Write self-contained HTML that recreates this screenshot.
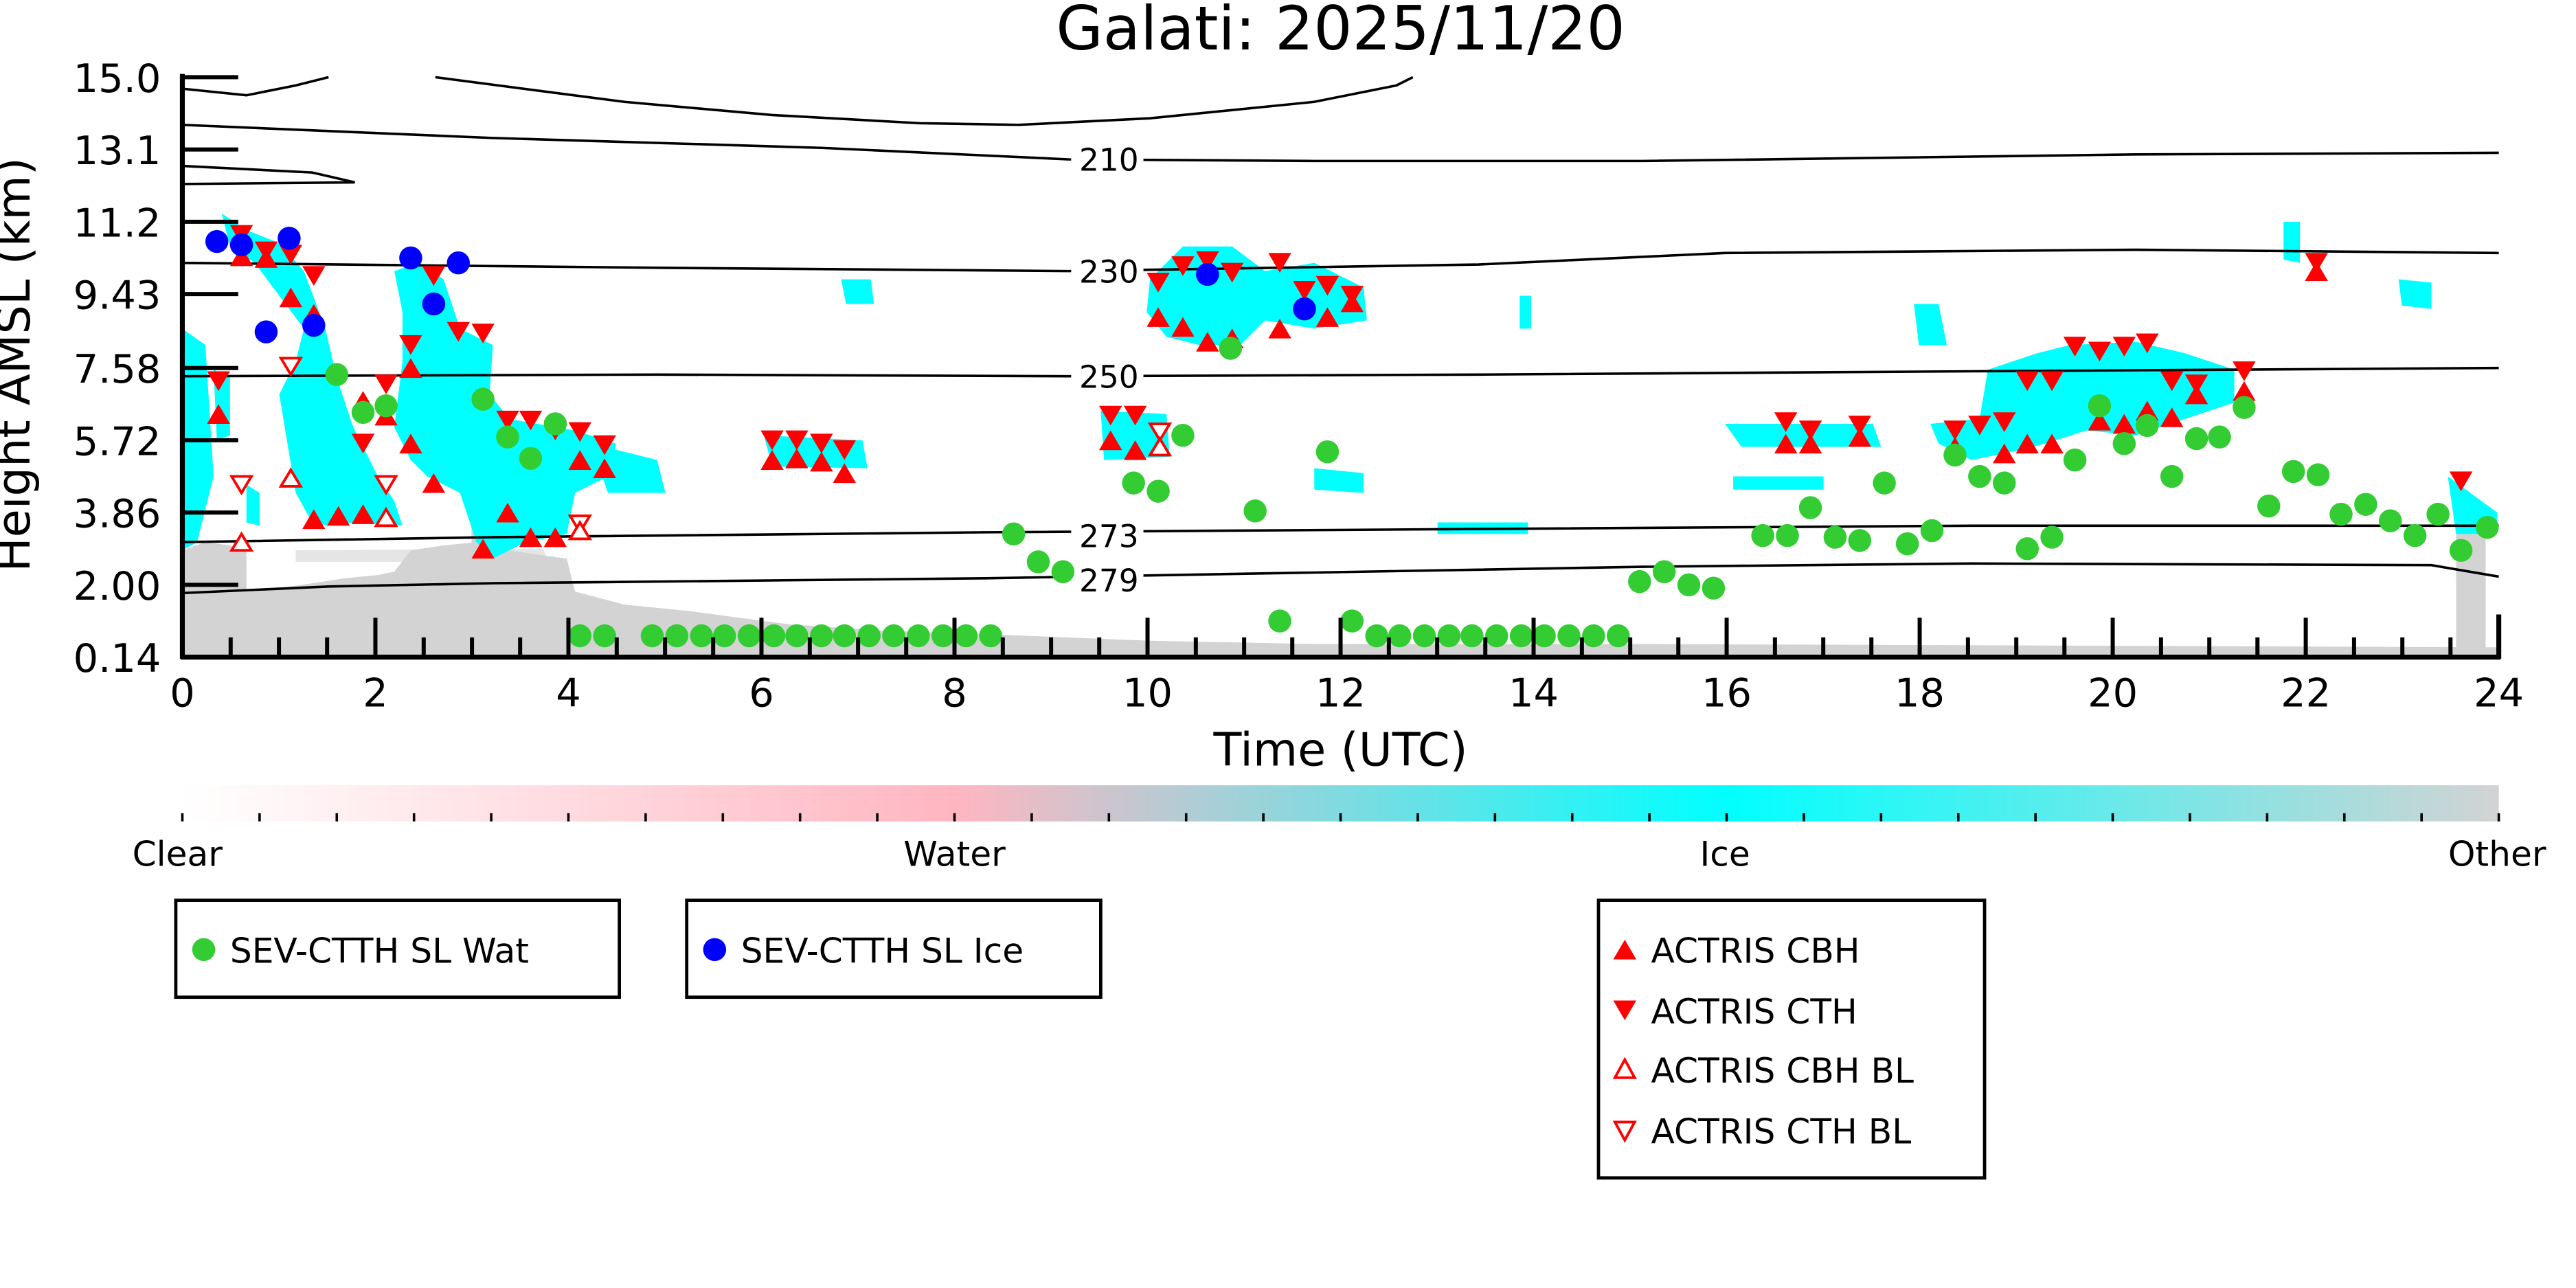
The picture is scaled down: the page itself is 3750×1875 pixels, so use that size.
<!DOCTYPE html>
<html><head><meta charset="utf-8"><style>
html,body{margin:0;padding:0;background:#fff;}
svg{display:block;}
text{font-family:"DejaVu Sans","Liberation Sans",sans-serif;}
</style></head><body>
<svg width="3750" height="1875" viewBox="0 0 1568 784" preserveAspectRatio="xMinYMin meet" xmlns="http://www.w3.org/2000/svg">
<defs>
<linearGradient id="cb" x1="0" x2="1" y1="0" y2="0">
<stop offset="0" stop-color="#ffffff"/>
<stop offset="0.333" stop-color="#ffb6c1"/>
<stop offset="0.666" stop-color="#00ffff"/>
<stop offset="1" stop-color="#d3d3d3"/>
</linearGradient>
<polygon id="up" points="0,-6 7,6 -7,6"/>
<polygon id="dn" points="0,6 7,-6 -7,-6"/>
</defs>
<text x="816" y="30" font-size="37" text-anchor="middle">Galati: 2025/11/20</text>

<g fill="#d3d3d3">
<path d="M111,335 L125,330 L140,332 L150,336 L150,360 L170,358 L190,355 L210,352 L230,350 L240,348 L250,335 L270,332 L290,330 L310,335 L330,338 L345,340 L350,360 L380,368 L420,372 L480,380 L540,384 L600,386 L700,390 L800,392 L900,392 L1000,392 L1521,394 L1521,400 L111,400 Z"/>
<rect x="287" y="320" width="20" height="80"/>
<rect x="1495" y="320" width="18" height="80"/>
<path d="M180,335 L330,334 L335,342 L180,342 Z" opacity="0.6"/>
</g>
<g fill="#00ffff">
<path d="M111,200 L125,210 L130,290 L120,330 L111,335 Z"/>
<path d="M130,225 L140,230 L140,265 L132,268 Z"/>
<path d="M150,295 L158,300 L158,320 L150,318 Z"/>
<path d="M135,130 L150,140 L170,148 L185,165 L198,200 L205,230 L215,260 L230,290 L240,305 L245,320 L215,318 L200,320 L190,318 L180,300 L175,270 L170,240 L180,220 L185,200 L170,180 L155,160 L140,150 Z"/>
<path d="M240,165 L255,160 L270,170 L280,200 L300,210 L298,240 L310,255 L350,262 L375,270 L370,290 L350,300 L345,325 L320,330 L300,340 L290,330 L280,300 L260,290 L250,280 L240,260 L245,220 L245,190 Z"/>
<path d="M360,270 L400,280 L405,300 L370,300 Z"/>
<path d="M465,265 L525,268 L528,285 L470,284 Z"/>
<path d="M670,250 L710,252 L712,278 L672,280 Z"/>
<path d="M700,170 L720,150 L750,150 L770,165 L800,160 L830,175 L832,195 L800,200 L770,195 L755,210 L730,210 L710,205 L698,190 Z"/>
<path d="M1210,225 L1240,215 L1260,210 L1300,208 L1330,215 L1360,225 L1360,245 L1330,255 L1300,265 L1270,262 L1245,270 L1225,275 L1200,280 L1180,270 L1175,258 L1205,255 Z"/>
<path d="M1050,258 L1140,258 L1145,272 L1060,272 Z"/>
<path d="M875,318 L930,318 L930,325 L875,325 Z"/>
<path d="M512,170 L530,170 L532,185 L515,185 Z"/>
<path d="M1165,185 L1180,185 L1185,210 L1168,210 Z"/>
<path d="M1055,290 L1110,290 L1110,298 L1055,298 Z"/>
<path d="M1490,290 L1520,312 L1520,325 L1495,325 Z"/>
<path d="M1460,170 L1480,172 L1480,188 L1462,186 Z"/>
<path d="M1390,135 L1400,135 L1400,160 L1390,158 Z"/>
<path d="M925,180 L932,180 L932,200 L925,200 Z"/>
<path d="M800,285 L830,288 L830,300 L800,298 Z"/>
</g>

<g fill="none" stroke="#000" stroke-width="1.5">
<path d="M111,54 L150,58 L180,52 L200,47"/>
<path d="M265,47 L380,62 L470,70 L560,75 L620,76 L700,72 L800,62 L850,52 L860,47"/>
<path d="M111,76 L300,84 L500,90 L650,97 L800,98 L1000,98 L1300,94 L1521,93"/>
<path d="M111,101 L190,105 L216,111 L111,112"/>
<path d="M111,160 L400,163 L650,165 L900,161 L1050,154 L1300,152 L1521,154"/>
<path d="M111,229 L400,228 L650,229 L900,228 L1200,226 L1521,224"/>
<path d="M111,330 L300,327 L600,324 L900,322 L1200,320 L1521,320"/>
<path d="M111,361 L200,357 L300,355 L600,352 L1000,345 L1200,343 L1480,344 L1521,351"/>
</g>
<g font-size="19" text-anchor="middle">
<rect x="652" y="86" width="44" height="20" fill="#fff"/><text x="675" y="104">210</text>
<rect x="652" y="154" width="44" height="20" fill="#fff"/><text x="675" y="172">230</text>
<rect x="652" y="218" width="44" height="20" fill="#fff"/><text x="675" y="236">250</text>
<rect x="652" y="315" width="44" height="20" fill="#fff"/><text x="675" y="333">273</text>
<rect x="652" y="342" width="44" height="20" fill="#fff"/><text x="675" y="360">279</text>
</g>

<g fill="#ff0000">
<use href="#dn" x="133" y="232"/><use href="#dn" x="147" y="143"/><use href="#dn" x="162" y="153"/><use href="#dn" x="177" y="155"/><use href="#dn" x="191" y="168"/><use href="#dn" x="221" y="270"/><use href="#dn" x="235" y="234"/><use href="#dn" x="250" y="210"/><use href="#dn" x="264" y="168"/><use href="#dn" x="279" y="202"/><use href="#dn" x="294" y="203"/><use href="#dn" x="309" y="256"/><use href="#dn" x="323" y="256"/><use href="#dn" x="338" y="262"/><use href="#dn" x="353" y="263"/><use href="#dn" x="368" y="271"/><use href="#dn" x="470" y="268"/><use href="#dn" x="485" y="268"/><use href="#dn" x="500" y="270"/><use href="#dn" x="514" y="274"/><use href="#dn" x="676" y="253"/><use href="#dn" x="691" y="253"/><use href="#dn" x="705" y="172"/><use href="#dn" x="720" y="162"/><use href="#dn" x="735" y="159"/><use href="#dn" x="750" y="166"/><use href="#dn" x="779" y="160"/><use href="#dn" x="794" y="177"/><use href="#dn" x="808" y="174"/><use href="#dn" x="823" y="180"/><use href="#dn" x="1087" y="257"/><use href="#dn" x="1102" y="262"/><use href="#dn" x="1132" y="259"/><use href="#dn" x="1190" y="262"/><use href="#dn" x="1205" y="259"/><use href="#dn" x="1220" y="257"/><use href="#dn" x="1234" y="232"/><use href="#dn" x="1249" y="232"/><use href="#dn" x="1263" y="211"/><use href="#dn" x="1278" y="214"/><use href="#dn" x="1293" y="211"/><use href="#dn" x="1307" y="209"/><use href="#dn" x="1322" y="232"/><use href="#dn" x="1337" y="234"/><use href="#dn" x="1366" y="226"/><use href="#dn" x="1410" y="160"/><use href="#dn" x="1498" y="293"/>
<use href="#up" x="133" y="252"/><use href="#up" x="147" y="156"/><use href="#up" x="162" y="157"/><use href="#up" x="177" y="181"/><use href="#up" x="191" y="191"/><use href="#up" x="221" y="244"/><use href="#up" x="235" y="253"/><use href="#up" x="250" y="224"/><use href="#up" x="264" y="294"/><use href="#up" x="294" y="334"/><use href="#up" x="309" y="312"/><use href="#up" x="323" y="327"/><use href="#up" x="338" y="327"/><use href="#up" x="368" y="285"/><use href="#up" x="191" y="316"/><use href="#up" x="206" y="314"/><use href="#up" x="221" y="313"/><use href="#up" x="250" y="270"/><use href="#up" x="353" y="280"/><use href="#up" x="470" y="280"/><use href="#up" x="485" y="279"/><use href="#up" x="500" y="281"/><use href="#up" x="514" y="288"/><use href="#up" x="676" y="268"/><use href="#up" x="691" y="274"/><use href="#up" x="705" y="193"/><use href="#up" x="720" y="199"/><use href="#up" x="735" y="208"/><use href="#up" x="750" y="206"/><use href="#up" x="779" y="200"/><use href="#up" x="808" y="193"/><use href="#up" x="823" y="184"/><use href="#up" x="1087" y="270"/><use href="#up" x="1102" y="270"/><use href="#up" x="1132" y="266"/><use href="#up" x="1190" y="272"/><use href="#up" x="1220" y="276"/><use href="#up" x="1234" y="270"/><use href="#up" x="1249" y="270"/><use href="#up" x="1278" y="256"/><use href="#up" x="1293" y="258"/><use href="#up" x="1307" y="250"/><use href="#up" x="1322" y="254"/><use href="#up" x="1337" y="240"/><use href="#up" x="1410" y="165"/><use href="#up" x="1366" y="238"/>
</g>
<g fill="#fff" stroke="#ff0000" stroke-width="1.6">
<polygon points="141,290 153,290 147,300"/><polygon points="171,218 183,218 177,228"/><polygon points="229,290 241,290 235,300"/><polygon points="347,314 359,314 353,324"/><polygon points="700,258 712,258 706,268"/>
<polygon points="147,325 141,335 153,335"/><polygon points="177,286 171,296 183,296"/><polygon points="235,310 229,320 241,320"/><polygon points="353,318 347,328 359,328"/><polygon points="706,267 700,277 712,277"/>
</g>
<g fill="#33cc33">
<circle cx="205" cy="228" r="7"/><circle cx="221" cy="251" r="7"/><circle cx="235" cy="247" r="7"/><circle cx="294" cy="243" r="7"/><circle cx="309" cy="266" r="7"/><circle cx="323" cy="279" r="7"/><circle cx="338" cy="258" r="7"/><circle cx="617" cy="325" r="7"/><circle cx="632" cy="342" r="7"/><circle cx="647" cy="348" r="7"/><circle cx="690" cy="294" r="7"/><circle cx="705" cy="299" r="7"/><circle cx="720" cy="265" r="7"/><circle cx="749" cy="212" r="7"/><circle cx="764" cy="311" r="7"/><circle cx="779" cy="378" r="7"/><circle cx="808" cy="275" r="7"/><circle cx="823" cy="378" r="7"/><circle cx="1073" cy="326" r="7"/><circle cx="1088" cy="326" r="7"/><circle cx="1102" cy="309" r="7"/><circle cx="1117" cy="327" r="7"/><circle cx="1132" cy="329" r="7"/><circle cx="1147" cy="294" r="7"/><circle cx="1161" cy="331" r="7"/><circle cx="1176" cy="323" r="7"/><circle cx="1190" cy="277" r="7"/><circle cx="1205" cy="290" r="7"/><circle cx="1220" cy="294" r="7"/><circle cx="1234" cy="334" r="7"/><circle cx="1249" cy="327" r="7"/><circle cx="1263" cy="280" r="7"/><circle cx="1278" cy="247" r="7"/><circle cx="1293" cy="270" r="7"/><circle cx="1307" cy="259" r="7"/><circle cx="1322" cy="290" r="7"/><circle cx="1337" cy="267" r="7"/><circle cx="1351" cy="266" r="7"/><circle cx="1366" cy="248" r="7"/><circle cx="1381" cy="308" r="7"/><circle cx="1396" cy="287" r="7"/><circle cx="1411" cy="289" r="7"/><circle cx="1425" cy="313" r="7"/><circle cx="1440" cy="307" r="7"/><circle cx="1455" cy="317" r="7"/><circle cx="1470" cy="326" r="7"/><circle cx="1484" cy="313" r="7"/><circle cx="1498" cy="335" r="7"/><circle cx="1514" cy="321" r="7"/><circle cx="998" cy="354" r="7"/><circle cx="1013" cy="348" r="7"/><circle cx="1028" cy="356" r="7"/><circle cx="1043" cy="358" r="7"/>
<circle cx="353" cy="387" r="7"/><circle cx="368" cy="387" r="7"/><circle cx="397" cy="387" r="7"/><circle cx="412" cy="387" r="7"/><circle cx="427" cy="387" r="7"/><circle cx="441" cy="387" r="7"/><circle cx="456" cy="387" r="7"/><circle cx="471" cy="387" r="7"/><circle cx="485" cy="387" r="7"/><circle cx="500" cy="387" r="7"/><circle cx="514" cy="387" r="7"/><circle cx="529" cy="387" r="7"/><circle cx="544" cy="387" r="7"/><circle cx="559" cy="387" r="7"/><circle cx="574" cy="387" r="7"/><circle cx="588" cy="387" r="7"/><circle cx="603" cy="387" r="7"/><circle cx="838" cy="387" r="7"/><circle cx="852" cy="387" r="7"/><circle cx="867" cy="387" r="7"/><circle cx="882" cy="387" r="7"/><circle cx="896" cy="387" r="7"/><circle cx="911" cy="387" r="7"/><circle cx="926" cy="387" r="7"/><circle cx="940" cy="387" r="7"/><circle cx="955" cy="387" r="7"/><circle cx="970" cy="387" r="7"/><circle cx="985" cy="387" r="7"/>
</g>
<g fill="#0000ff">
<circle cx="132" cy="147" r="7"/><circle cx="147" cy="149" r="7"/><circle cx="176" cy="145" r="7"/><circle cx="162" cy="202" r="7"/><circle cx="191" cy="198" r="7"/><circle cx="250" cy="157" r="7"/><circle cx="264" cy="185" r="7"/><circle cx="279" cy="160" r="7"/><circle cx="735" cy="167" r="7"/><circle cx="794" cy="188" r="7"/>
</g>

<g stroke="#000" stroke-width="3" fill="none">
<line x1="111" y1="45" x2="111" y2="401"/>
<line x1="110" y1="400" x2="1522" y2="400"/>
<line x1="1521" y1="374" x2="1521" y2="401"/>
</g>
<g stroke="#000" stroke-width="2.5">
<line x1="111" y1="47" x2="145" y2="47"/><line x1="111" y1="91" x2="145" y2="91"/><line x1="111" y1="135" x2="145" y2="135"/><line x1="111" y1="179" x2="145" y2="179"/><line x1="111" y1="224" x2="145" y2="224"/><line x1="111" y1="268" x2="145" y2="268"/><line x1="111" y1="312" x2="145" y2="312"/><line x1="111" y1="356" x2="145" y2="356"/>
</g>
<g font-size="24" text-anchor="end">
<text x="98" y="56">15.0</text><text x="98" y="100">13.1</text><text x="98" y="144">11.2</text><text x="98" y="188">9.43</text><text x="98" y="233">7.58</text><text x="98" y="277">5.72</text><text x="98" y="321">3.86</text><text x="98" y="365">2.00</text><text x="98" y="409">0.14</text>
</g>
<g font-size="24" text-anchor="middle">
<text x="111" y="430">0</text><text x="228.5" y="430">2</text><text x="346" y="430">4</text><text x="463.5" y="430">6</text><text x="581" y="430">8</text><text x="698.5" y="430">10</text><text x="816" y="430">12</text><text x="933.5" y="430">14</text><text x="1051" y="430">16</text><text x="1168.5" y="430">18</text><text x="1286" y="430">20</text><text x="1403.5" y="430">22</text><text x="1521" y="430">24</text>
<text x="816" y="466" font-size="28">Time (UTC)</text>
</g>
<text transform="translate(18,222) rotate(-90)" font-size="28" text-anchor="middle">Height AMSL (km)</text>

<rect x="111" y="478" width="1410" height="22" fill="url(#cb)"/>
<g font-size="21" text-anchor="middle">
<text x="108" y="527">Clear</text><text x="581" y="527">Water</text><text x="1050" y="527">Ice</text><text x="1520" y="527">Other</text>
</g>

<g fill="#fff" stroke="#000" stroke-width="2">
<rect x="107" y="548" width="270" height="59"/>
<rect x="418" y="548" width="252" height="59"/>
<rect x="973" y="548" width="235" height="169"/>
</g>
<g font-size="21">
<circle cx="124" cy="578" r="7" fill="#33cc33"/><text x="140" y="586">SEV-CTTH SL Wat</text>
<circle cx="435" cy="578" r="7" fill="#0000ff"/><text x="451" y="586">SEV-CTTH SL Ice</text>
<polygon points="989,572 996,584 982,584" fill="#f00"/><text x="1005" y="586">ACTRIS CBH</text>
<polygon points="989,621 996,609 982,609" fill="#f00"/><text x="1005" y="623">ACTRIS CTH</text>
<polygon points="989,645 995,656 983,656" fill="#fff" stroke="#f00" stroke-width="1.6"/><text x="1005" y="659">ACTRIS CBH BL</text>
<polygon points="989,694 995,683 983,683" fill="#fff" stroke="#f00" stroke-width="1.6"/><text x="1005" y="696">ACTRIS CTH BL</text>
</g>
<g stroke="#000" stroke-width="2.5">
<path d="M228.5,400V376M346,400V376M463.5,400V376M581,400V376M698.5,400V376M816,400V376M933.5,400V376M1051,400V376M1168.5,400V376M1286,400V376M1403.5,400V376"/>
<path d="M140.4,400V388M169.8,400V388M199.1,400V388M257.9,400V388M287.3,400V388M316.6,400V388M375.4,400V388M404.8,400V388M434.1,400V388M492.9,400V388M522.3,400V388M551.6,400V388M610.4,400V388M639.8,400V388M669.1,400V388M727.9,400V388M757.3,400V388M786.6,400V388M845.4,400V388M874.8,400V388M904.1,400V388M962.9,400V388M992.3,400V388M1021.6,400V388M1080.4,400V388M1109.8,400V388M1139.1,400V388M1197.9,400V388M1227.3,400V388M1256.6,400V388M1315.4,400V388M1344.8,400V388M1374.1,400V388M1432.9,400V388M1462.3,400V388M1491.6,400V388"/>
</g>
<g stroke="#000" stroke-width="1.5">
<path d="M111,500v-5M158,500v-5M205,500v-5M252,500v-5M299,500v-5M346,500v-5M393,500v-5M440,500v-5M487,500v-5M534,500v-5M581,500v-5M628,500v-5M675,500v-5M722,500v-5M769,500v-5M816,500v-5M863,500v-5M910,500v-5M957,500v-5M1004,500v-5M1051,500v-5M1098,500v-5M1145,500v-5M1192,500v-5M1239,500v-5M1286,500v-5M1333,500v-5M1380,500v-5M1427,500v-5M1474,500v-5M1521,500v-5"/>
</g>
</svg>
</body></html>
